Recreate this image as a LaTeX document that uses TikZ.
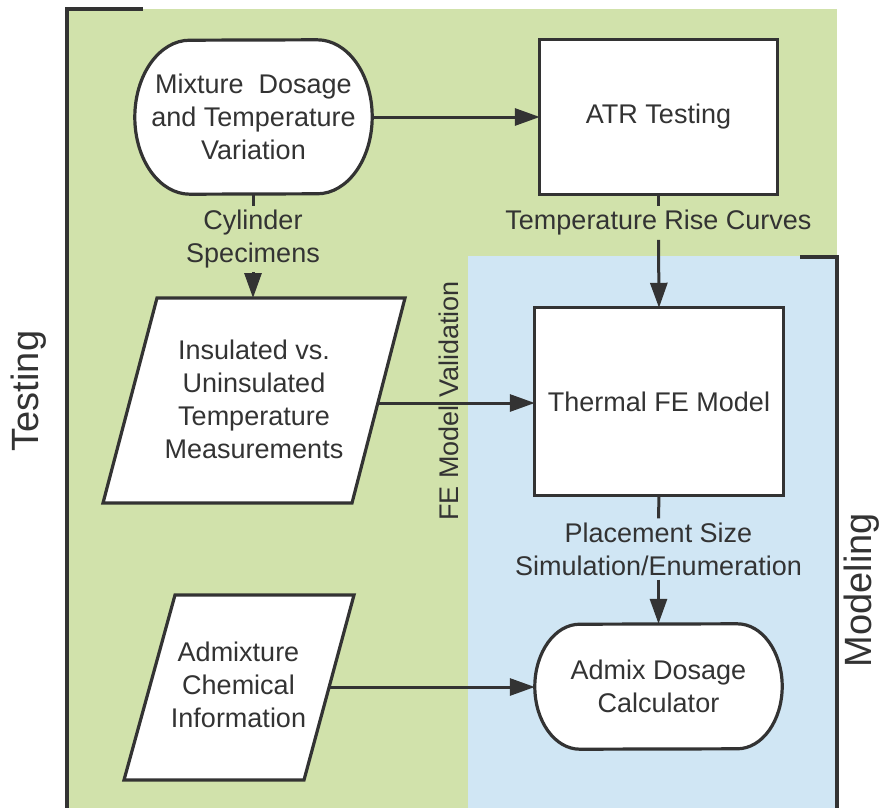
\documentclass[tikz,border=0pt]{standalone}
\usepackage{fontspec}
\setmainfont{Liberation Sans}
\usetikzlibrary{arrows.meta,backgrounds}
\definecolor{bggreen}{HTML}{D1E2AB}
\definecolor{bgblue}{HTML}{D0E6F4}
\definecolor{ink}{HTML}{333333}
\begin{document}
\begin{tikzpicture}[x=1pt,y=-1pt,
  txt/.style={font=\fontsize{27}{33}\selectfont, text=ink, align=center, inner sep=0pt},
  lab/.style={txt, inner sep=4pt},
  big/.style={font=\fontsize{38}{40}\selectfont, text=ink, inner sep=0pt, rotate=90},
  box/.style={draw=ink, line width=3.2pt, fill=white, line join=miter},
  ln/.style={draw=ink, line width=3pt},
  arr/.style={draw=ink, line width=3pt, -{Triangle[length=25pt,width=17pt]}},
  brk/.style={draw=ink, line width=3.2pt}]
\useasboundingbox (0,0) rectangle (883,808);

% regions
\begin{scope}[on background layer]
  \fill[bggreen] (67,9) rectangle (837,808);
  \fill[bgblue] (468,256) rectangle (837,808);
\end{scope}
\draw[brk] (143,9) -- (67,9) -- (67,808);
\draw[brk] (800,257) -- (837,257) -- (837,808);

% region titles
\node[big] (testing) at (29,391) {Testing};
\node[big] (modeling) at (862,590) {Modeling};

% nodes
\node[txt, minimum width=237pt, minimum height=154pt] (mix) at (253.5,117) {Mixture\ \ Dosage\\and Temperature\\Variation};
\node[txt, minimum width=237pt, minimum height=154pt] (atr) at (658.5,117) {ATR Testing};
\node[txt, minimum width=248pt, minimum height=187pt] (fe) at (659,401.5) {Thermal FE Model};
\node[txt, minimum width=247pt, minimum height=125pt] (adm) at (658.5,686.5) {Admix Dosage\\Calculator};
\node[txt] (ins) at (254,399) {Insulated vs.\\Uninsulated\\Temperature\\Measurements};
\node[txt] (chem) at (238.5,685) {Admixture\\Chemical\\Information};
\node[txt, rotate=90] (fev) at (449,401) {FE Model Validation};

% connector labels
\node[lab] (cyl) at (253,239) {Cylinder\\Specimens};
\node[lab] (trc) at (658.5,223) {Temperature Rise Curves};
\node[lab] (pss) at (658.5,549) {Placement Size\\Simulation/Enumeration};

% parallelogram border points
\coordinate (insN) at (253,298);
\coordinate (insE) at (379,403);
\coordinate (chemE) at (330,687);

% shapes
\begin{scope}[on background layer]
  \draw[box] ([xshift=-55pt]mix.north east)
     arc[start angle=90,end angle=-90,x radius=55pt,y radius=77pt]
     -- ([xshift=55pt]mix.south west)
     arc[start angle=270,end angle=90,x radius=55pt,y radius=77pt] -- cycle;
  \draw[box] (atr.north west) rectangle (atr.south east);
  \draw[box] (fe.north west) rectangle (fe.south east);
  \draw[box] ([xshift=-45pt]adm.north east)
     arc[start angle=90,end angle=-90,x radius=45pt,y radius=62.5pt]
     -- ([xshift=45pt]adm.south west)
     arc[start angle=270,end angle=90,x radius=45pt,y radius=62.5pt] -- cycle;
  \draw[box] (157,298) -- (405,298) -- (352,503) -- (103,503) -- cycle;
  \draw[box] (175,595) -- (354,595) -- (304,780) -- (124,780) -- cycle;
\end{scope}

% connectors
\draw[arr] (mix.east) -- (atr.west);
\draw[ln] (mix.south -| cyl) -- (cyl.north);
\draw[arr] (cyl.south) -- (insN);
\draw[ln] (atr.south) -- (trc.north);
\draw[arr] (trc.south) -- (fe.north);
\draw[arr] (insE) -- (insE -| fe.west);
\draw[ln] (fe.south) -- (pss.north);
\draw[arr] (pss.south) -- (adm.north);
\draw[arr] (chemE) -- (chemE -| adm.west);
\end{tikzpicture}
\end{document}
